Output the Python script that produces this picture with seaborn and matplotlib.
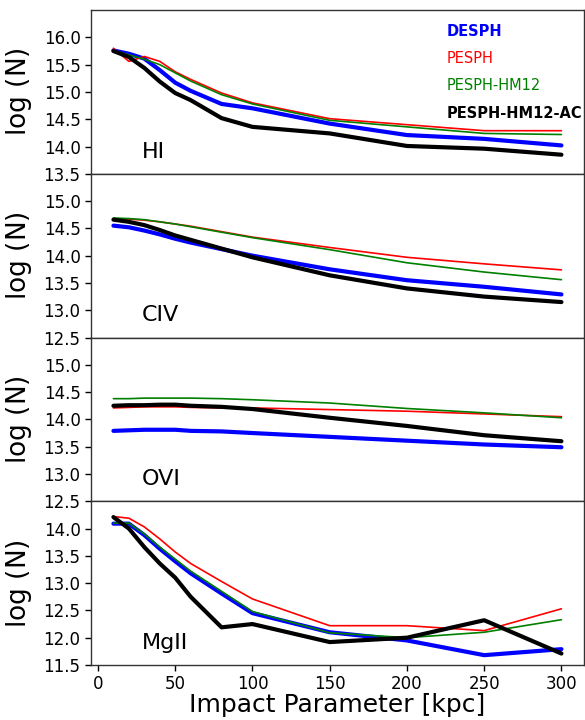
import numpy as np
import pandas as pd
import matplotlib
matplotlib.use("Agg")
import matplotlib.pyplot as plt
import seaborn as sns

# ---------------- data ----------------
kpc = [10, 20, 30, 40, 50, 60, 80, 100, 150, 200, 250, 300]

models = ["DESPH", "PESPH", "PESPH-HM12", "PESPH-HM12-AC"]
ions = ["HI", "CIV", "OVI", "MgII"]

# HI
hi_desph = [15.76, 15.70, 15.61, 15.40, 15.17, 15.02, 14.78, 14.70, 14.42, 14.21, 14.14, 14.02]
hi_pesph = [15.80, 15.56, 15.65, 15.56, 15.37, 15.23, 14.98, 14.80, 14.51, 14.40, 14.29, 14.29]
hi_hm12 = [15.76, 15.68, 15.60, 15.50, 15.35, 15.20, 14.95, 14.78, 14.48, 14.36, 14.24, 14.22]
hi_ac = [15.75, 15.64, 15.44, 15.19, 14.98, 14.85, 14.52, 14.36, 14.24, 14.01, 13.96, 13.85]

# CIV
civ_desph = [14.55, 14.52, 14.46, 14.39, 14.31, 14.24, 14.12, 14.00, 13.75, 13.55, 13.43, 13.29]
civ_pesph = [14.68, 14.67, 14.65, 14.62, 14.58, 14.54, 14.44, 14.34, 14.15, 13.97, 13.85, 13.74]
civ_hm12 = [14.69, 14.68, 14.66, 14.62, 14.58, 14.53, 14.43, 14.33, 14.11, 13.87, 13.70, 13.56]
civ_ac = [14.66, 14.62, 14.56, 14.47, 14.37, 14.29, 14.13, 13.97, 13.64, 13.40, 13.25, 13.15]

# OVI
ovi_desph = [13.79, 13.80, 13.81, 13.81, 13.81, 13.79, 13.78, 13.75, 13.68, 13.61, 13.54, 13.49]
ovi_pesph = [14.21, 14.22, 14.23, 14.23, 14.23, 14.22, 14.21, 14.21, 14.18, 14.15, 14.10, 14.05]
ovi_hm12 = [14.38, 14.38, 14.39, 14.39, 14.39, 14.39, 14.38, 14.36, 14.30, 14.20, 14.12, 14.03]
ovi_ac = [14.25, 14.26, 14.26, 14.27, 14.27, 14.25, 14.23, 14.19, 14.03, 13.88, 13.71, 13.60]

# MgII
mg_desph = [14.09, 14.09, 13.88, 13.63, 13.40, 13.18, 12.81, 12.45, 12.10, 11.95, 11.68, 11.79]
mg_pesph = [14.22, 14.19, 14.03, 13.81, 13.57, 13.36, 13.03, 12.71, 12.22, 12.22, 12.13, 12.53]
mg_hm12 = [14.10, 14.10, 13.90, 13.66, 13.44, 13.22, 12.85, 12.48, 12.09, 12.00, 12.10, 12.33]
mg_ac = [14.21, 14.00, 13.66, 13.36, 13.10, 12.75, 12.19, 12.25, 11.92, 12.00, 12.32, 11.71]

values = {
    "HI": [hi_desph, hi_pesph, hi_hm12, hi_ac],
    "CIV": [civ_desph, civ_pesph, civ_hm12, civ_ac],
    "OVI": [ovi_desph, ovi_pesph, ovi_hm12, ovi_ac],
    "MgII": [mg_desph, mg_pesph, mg_hm12, mg_ac],
}

ylims = {"HI": (13.5, 16.5), "CIV": (12.5, 15.5), "OVI": (12.5, 15.5), "MgII": (11.5, 14.5)}
yticks = {
    "HI": [13.5, 14.0, 14.5, 15.0, 15.5, 16.0],
    "CIV": [12.5, 13.0, 13.5, 14.0, 14.5, 15.0],
    "OVI": [12.5, 13.0, 13.5, 14.0, 14.5, 15.0],
    "MgII": [11.5, 12.0, 12.5, 13.0, 13.5, 14.0],
}
xticks = [0, 50, 100, 150, 200, 250, 300]

rows = []
for ion in ions:
    for m, series in zip(models, values[ion]):
        for x, y in zip(kpc, series):
            rows.append({"ion": ion, "model": m, "kpc": x, "logN": y})
df = pd.DataFrame(rows)

palette = {"DESPH": "blue", "PESPH": "red", "PESPH-HM12": "green", "PESPH-HM12-AC": "black"}
widths = {"DESPH": 3.0, "PESPH": 1.2, "PESPH-HM12": 1.2, "PESPH-HM12-AC": 3.0}
label_weight = {"DESPH": "bold", "PESPH": "normal", "PESPH-HM12": "normal", "PESPH-HM12-AC": "bold"}

# ---------------- plot ----------------
sns.set_style("ticks")
plt.rcParams["font.family"] = ["DejaVu Sans"]
plt.rcParams["text.color"] = "black"
plt.rcParams["xtick.color"] = "black"
plt.rcParams["ytick.color"] = "black"
plt.rcParams["axes.labelcolor"] = "black"

fig, axes = plt.subplots(4, 1, figsize=(5.85, 7.2), dpi=100, sharex=True)
fig.subplots_adjust(left=0.1556, right=0.998, top=0.986, bottom=0.0764, hspace=0)

for ax, ion in zip(axes, ions):
    sub = df[df["ion"] == ion]
    sns.lineplot(data=sub, x="kpc", y="logN", hue="model", size="model",
                 hue_order=models, size_order=models, palette=palette, sizes=widths,
                 legend=False, sort=False, estimator=None, ax=ax)
    ax.set_ylim(*ylims[ion])
    ax.set_yticks(yticks[ion])
    ax.tick_params(axis="y", labelsize=12, direction="out", length=4, width=1)
    ax.set_ylabel(r"$\log\,(\mathrm{N})$", fontsize=19)
    ax.set_xlabel("")
    ax.text(0.103, 0.098, ion, transform=ax.transAxes, fontsize=16,
            ha="left", va="baseline")
    for s in ax.spines.values():
        s.set_visible(True)
        s.set_linewidth(1.0)
        s.set_color("0.2")

for ax in axes[:-1]:
    ax.tick_params(axis="x", length=0, labelbottom=False)

axes[-1].set_xticks(xticks)
axes[-1].tick_params(axis="x", labelsize=12, direction="out", length=4, width=1)
axes[-1].set_xlabel("Impact Parameter [kpc]", fontsize=18, labelpad=0)

for ax in axes:
    ax.yaxis.set_label_coords(-0.115, 0.5)

ys = [0.870, 0.704, 0.537, 0.370]
for m, yy in zip(models, ys):
    axes[0].text(0.7215, yy, m, transform=axes[0].transAxes, color=palette[m],
                 fontsize=10.5, fontweight=label_weight[m], ha="left", va="center")

fig.savefig("out.png", dpi=100)
